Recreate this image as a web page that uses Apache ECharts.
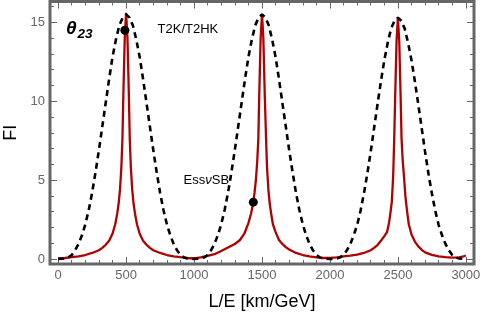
<!DOCTYPE html>
<html>
<head>
<meta charset="utf-8">
<script src="https://cdn.jsdelivr.net/npm/echarts@6/dist/echarts.min.js"></script>
<style>html,body{margin:0;padding:0;background:#fff;}#c{width:480px;height:313px;}</style>
</head>
<body>
<div id="c"></div>
<script>
// ---- data ----
const xMajor = [0, 500, 1000, 1500, 2000, 2500, 3000];
const xMinor = [0,100,200,300,400,500,600,700,800,900,1000,1100,1200,1300,1400,1500,1600,1700,1800,1900,2000,2100,2200,2300,2400,2500,2600,2700,2800,2900,3000];
const yMajor = [0, 5, 10, 15];
const yMinor = [0,1,2,3,4,5,6,7,8,9,10,11,12,13,14,15,16];

const redX = [0,50,100,150,200,250,300,325,350,375,400,420,435,445,455,465,473,480,490,500,510,520,527,535,545,555,565,580,600,625,650,675,700,750,800,850,900,950,1000,
1050,1100,1150,1200,1250,1300,1338,1370,1400,1420,1436,1445,1455,1465,1473,1480,1490,1500,1510,1520,1530,1537,1547,1557,1567,1580,1600,1625,1650,1675,1700,1750,1800,1850,1900,1950,2000,
2050,2100,2150,2200,2250,2300,2325,2350,2375,2400,2420,2435,2445,2455,2465,2473,2480,2490,2500,2510,2520,2527,2535,2545,2555,2565,2580,2600,2625,2650,2675,2700,2750,2800,2850,2900,2950,2975,3000];
const redY = [0.03,0.06,0.11,0.17,0.25,0.38,0.55,0.7,0.9,1.15,1.6,2.2,2.9,3.5,4.4,5.8,7.6,10.5,14.0,15.6,14.0,10.5,7.6,5.8,4.4,3.5,2.9,2.2,1.6,1.15,0.9,0.7,0.55,0.38,0.25,0.17,0.11,0.06,0.03,
0.1,0.2,0.3,0.5,0.72,0.95,1.2,1.6,2.27,2.9,3.6,4.2,5.0,6.2,7.6,10.5,14.0,15.5,14.0,10.5,7.6,5.8,4.4,3.5,2.9,2.2,1.7,1.2,0.95,0.75,0.6,0.38,0.25,0.16,0.1,0.06,0.07,
0.1,0.16,0.21,0.28,0.38,0.55,0.7,0.88,1.15,1.45,1.7,2.3,2.9,3.6,5.2,7.6,10.3,13.8,15.3,13.8,10.3,7.6,6.3,5.2,4.0,3.2,2.2,1.55,1.1,0.8,0.58,0.42,0.26,0.17,0.12,0.08,0.1,0.14,0.22];

const dashX = [0,25,50,75,100,125,150,175,200,225,250,275,300,325,350,375,400,425,450,475,500,525,550,575,600,625,650,675,700,725,750,775,800,825,850,875,900,925,950,975,1000,
1025,1050,1075,1100,1125,1150,1175,1200,1225,1250,1275,1300,1325,1350,1375,1400,1425,1450,1475,1500,1525,1550,1575,1600,1625,1650,1675,1700,1725,1750,1775,1800,1825,1850,1875,1900,1925,1950,1975,2000,
2025,2050,2075,2100,2125,2150,2175,2200,2225,2250,2275,2300,2325,2350,2375,2400,2425,2450,2475,2500,2525,2550,2575,2600,2625,2650,2675,2700,2725,2750,2775,2800,2825,2850,2875,2900,2925,2950,2975,3000];
const dashY = [0,0.01,0.03,0.1,0.25,0.55,0.95,1.5,2.2,3.1,4.2,5.5,6.9,8.4,9.9,11.4,12.8,13.9,14.8,15.3,15.5,15.3,14.8,13.9,12.8,11.4,9.9,8.4,6.9,5.5,4.2,3.1,2.2,1.5,0.95,0.55,0.25,0.1,0.03,0.01,0,
0.01,0.03,0.1,0.25,0.55,0.95,1.5,2.2,3.1,4.2,5.5,6.9,8.4,9.9,11.4,12.8,13.9,14.8,15.3,15.5,15.3,14.8,13.9,12.8,11.4,9.9,8.4,6.9,5.5,4.2,3.1,2.2,1.5,0.95,0.55,0.25,0.1,0.03,0.01,0,
0.01,0.03,0.1,0.25,0.55,0.95,1.5,2.15,3.05,4.15,5.4,6.8,8.3,9.8,11.25,12.6,13.7,14.6,15.1,15.3,15.1,14.6,13.7,12.6,11.25,9.8,8.3,6.8,5.4,4.15,3.05,2.15,1.5,0.95,0.55,0.25,0.1,0.03,0.01,0];

const expNames = ['T2K/T2HK', 'EssνSB'];
const expX = [491, 1436];
const expY = [14.5, 3.6];

// ---- chart ----
const FONT = '"Liberation Sans", Arial, sans-serif';
const GRAY = '#666666';
const zip = (a, b) => a.map((v, i) => [v, b[i]]);

function xAx(pos, ticks, len, withLabels) {
  return {
    type: 'value', position: pos, min: -60, max: 3060,
    axisLine: { show: false, onZero: false },
    axisTick: { show: true, inside: true, length: len, customValues: ticks, lineStyle: { color: GRAY, width: 1 } },
    axisLabel: withLabels ? { show: true, customValues: xMajor, formatter: (v) => String(v), color: GRAY, fontSize: 13, fontFamily: FONT, margin: 5 } : { show: false },
    splitLine: { show: false }
  };
}
function yAx(pos, ticks, len, withLabels) {
  return {
    type: 'value', position: pos, min: -0.32, max: 16.32,
    axisLine: { show: false, onZero: false },
    axisTick: { show: true, inside: true, length: len, customValues: ticks, lineStyle: { color: GRAY, width: 1 } },
    axisLabel: withLabels ? { show: true, customValues: yMajor, formatter: (v) => String(v), color: GRAY, fontSize: 13, fontFamily: FONT, margin: 5 } : { show: false },
    splitLine: { show: false }
  };
}

const xA0 = xAx('bottom', xMajor, 7, true);
xA0.name = 'L/E [km/GeV]';
xA0.nameLocation = 'middle';
xA0.nameGap = 29;
xA0.nameTextStyle = { fontSize: 18, color: '#000', fontFamily: FONT };
const yA0 = yAx('left', yMajor, 7, true);
yA0.name = 'FI';
yA0.nameLocation = 'middle';
yA0.nameGap = 30;
yA0.nameTextStyle = { fontSize: 18, color: '#000', fontFamily: FONT };

const chart = echarts.init(document.getElementById('c'), null, { renderer: 'canvas' });
chart.setOption({
  animation: false,
  backgroundColor: '#fff',
  grid: { left: 50, top: 1.5, width: 424, height: 262.5, show: true, borderColor: GRAY, borderWidth: 3, backgroundColor: 'transparent', containLabel: false, outerBoundsMode: 'none' },
  xAxis: [xA0, xAx('bottom', xMinor, 4, false), xAx('top', xMajor, 7, false), xAx('top', xMinor, 4, false)],
  yAxis: [yA0, yAx('left', yMinor, 4, false), yAx('right', yMajor, 7, false), yAx('right', yMinor, 4, false)],
  series: [
    { type: 'line', data: zip(redX, redY), showSymbol: false, lineStyle: { color: '#b00000', width: 2.3 }, z: 2, silent: true },
    { type: 'line', data: zip(dashX, dashY), showSymbol: false, lineStyle: { color: '#000', width: 2.6, type: [6, 4.5] }, z: 3, silent: true },
    { type: 'scatter', data: zip(expX, expY), symbolSize: 9, itemStyle: { color: '#000', opacity: 1 }, z: 5, silent: true,
      label: { show: true, position: 'inside', color: '#000', fontSize: 13, fontFamily: FONT,
        formatter: (p) => p.dataIndex === 0 ? expNames[0] : 'Ess{i|ν}SB',
        rich: { i: { fontStyle: 'italic', fontSize: 13, fontFamily: FONT, color: '#000' } } },
      labelLayout: (p) => p.dataIndex === 0 ? { dx: 63, dy: -1 } : { dx: -47, dy: -21.5 }
    }
  ],
  graphic: [
    { type: 'text', x: 66, y: 28.5, style: { text: 'θ', fontSize: 19, fontWeight: 'bold', fontStyle: 'italic', fontFamily: FONT, fill: '#000', align: 'left', verticalAlign: 'middle' } },
    { type: 'text', x: 77.5, y: 34, style: { text: '23', fontSize: 13.5, fontWeight: 'bold', fontStyle: 'italic', fontFamily: FONT, fill: '#000', align: 'left', verticalAlign: 'middle' } }
  ]
});
</script>
</body>
</html>
